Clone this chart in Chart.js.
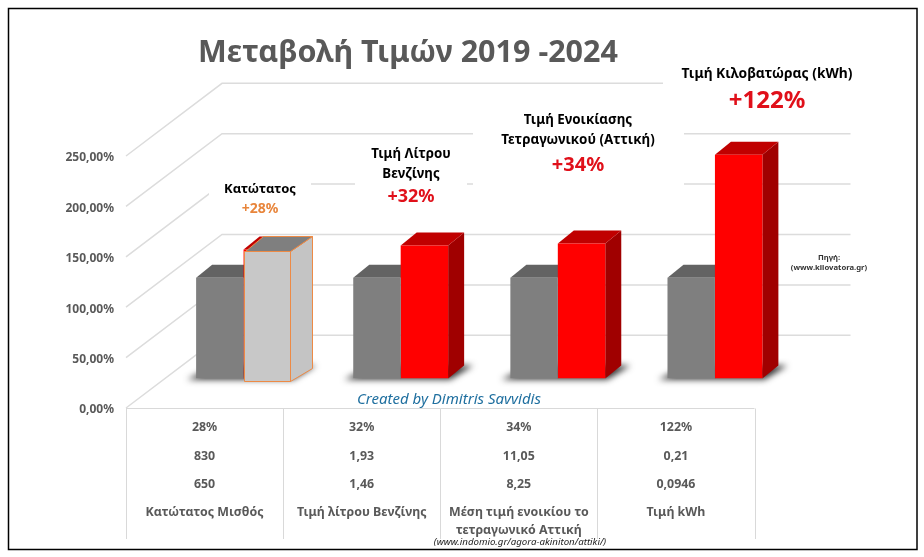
<!DOCTYPE html>
<html>
<head>
<meta charset="utf-8">
<style>
  html, body { margin: 0; padding: 0; background: #fff; }
  #wrap { position: relative; width: 924px; height: 557px; }
</style>
<script src="https://cdn.jsdelivr.net/npm/chart.js@4"></script>
</head>
<body>
<div id="wrap"><canvas id="chart" width="924" height="557"></canvas></div>
<script>
const categories = ['Κατώτατος Μισθός', 'Τιμή λίτρου Βενζίνης', 'Μέση τιμή ενοικίου το|τετραγωνικό Αττική', 'Τιμή kWh'];
const baseValues = [100, 100, 100, 100];
const currentValues = [128, 132, 134, 222];
const yTicks = ['0,00%', '50,00%', '100,00%', '150,00%', '200,00%', '250,00%'];
const changeRow = ['28%', '32%', '34%', '122%'];
const newRow = ['830', '1,93', '11,05', '0,21'];
const oldRow = ['650', '1,46', '8,25', '0,0946'];

const FONT = '"Noto Sans", sans-serif';
const GREY_TXT = '#595959';
// oblique projection: front edge, back wall, bar plane, bar extrusion
// (the plot sits 2px low so the tick labels line up, FRONT_DY takes it back)
const FRONT_DY = -2;
const WALL = { dx: 96, dy: -72.7 };
const PLANE = { dx: 39, dy: -31.5 };
const BAR = { dx: 16, dy: -13 };

function poly(ctx, pts, fill, stroke) {
  ctx.beginPath();
  pts.forEach((p, i) => i ? ctx.lineTo(p[0], p[1]) : ctx.moveTo(p[0], p[1]));
  ctx.closePath();
  if (fill) { ctx.fillStyle = fill; ctx.fill(); }
  if (stroke) { ctx.strokeStyle = stroke; ctx.stroke(); }
}

function label(ctx, text, x, y, font, color) {
  ctx.font = font;
  ctx.fillStyle = color;
  ctx.textAlign = 'center';
  ctx.textBaseline = 'middle';
  ctx.fillText(text, x, y + 1);
}

// walls and gridlines, then white boxes behind the callouts
function drawWalls(chart) {
  const { ctx, chartArea: a, scales: { y } } = chart;
  ctx.save();
  ctx.strokeStyle = '#dcdcdc';
  ctx.lineWidth = 1.5;
  y.ticks.forEach(t => {
    const py = y.getPixelForValue(t.value) + FRONT_DY;
    ctx.beginPath();
    ctx.moveTo(a.left, py);
    ctx.lineTo(a.left + WALL.dx, py + WALL.dy);
    ctx.lineTo(a.right + WALL.dx, py + WALL.dy);
    ctx.stroke();
  });
  ctx.fillStyle = '#fff';
  ctx.fillRect(209, 176, 102, 47);
  ctx.fillRect(355, 140, 112, 70);
  ctx.fillRect(473, 100, 211, 90);
  ctx.fillRect(663, 60, 195, 50);
  ctx.restore();
}

function drawExtrusions(chart) {
  const { ctx } = chart;
  const greys = chart.getDatasetMeta(0).data;
  const reds = chart.getDatasetMeta(1).data;
  ctx.save();
  // floor shadow, shape parked off canvas so only the blur lands here
  const off = 2000;
  reds.forEach((r, i) => {
    const g = greys[i];
    const l = g.x - g.width / 2 + PLANE.dx, rt = r.x + r.width / 2 + PLANE.dx, b = r.base + PLANE.dy;
    ctx.save();
    ctx.shadowColor = 'rgba(0,0,0,0.8)';
    ctx.shadowBlur = 6;
    ctx.shadowOffsetX = off;
    poly(ctx, [[l - 9 - off, b + 1], [rt + 2 - off, b + 1], [rt + BAR.dx + 9 - off, b + BAR.dy], [l + 20 - off, b + BAR.dy]], '#000');
    ctx.restore();
  });
  [[greys, '#636363', '#5a5a5a'], [reds, '#c00000', '#a00000']].forEach(([els, top, side]) => {
    els.forEach(e => {
      const l = e.x - e.width / 2 + PLANE.dx, r = e.x + e.width / 2 + PLANE.dx;
      const t = e.y + PLANE.dy, b = e.base + PLANE.dy;
      poly(ctx, [[r, t], [r + BAR.dx, t + BAR.dy], [r + BAR.dx, b + BAR.dy], [r, b]], side);
      poly(ctx, [[l, t], [r, t], [r + BAR.dx, t + BAR.dy], [l + BAR.dx, t + BAR.dy]], top);
    });
  });
  ctx.restore();
}

// the pale box pasted over the first red bar in the original
function drawHighlight(chart) {
  const { ctx } = chart;
  const e = chart.getDatasetMeta(1).data[0];
  const l = Math.round(e.x - e.width / 2 + PLANE.dx) + 0.5, r = Math.round(e.x + e.width / 2 + PLANE.dx) - 0.5;
  const t = Math.round(e.y + PLANE.dy) + 2.5, b = Math.round(e.base + PLANE.dy) + 2.5;
  const d = { dx: 22, dy: -15 };
  ctx.save();
  ctx.lineWidth = 1;
  poly(ctx, [[r, t], [r + d.dx, t + d.dy], [r + d.dx, b + d.dy + 2], [r, b]], '#c4c4c4', '#ed8a45');
  poly(ctx, [[l + 1, t], [r, t], [r + d.dx, t + d.dy], [l + d.dx - 3, t + d.dy]], '#7f7f7f', '#ed8a45');
  poly(ctx, [[l, t], [r, t], [r, b], [l, b]], '#c8c8c8', '#ed8a45');
  ctx.restore();
}

function drawTexts(chart) {
  const { ctx, chartArea: a, scales: { x } } = chart;
  ctx.save();
  label(ctx, 'Μεταβολή Τιμών 2019 -2024', 408, 52, 'bold 30.5px ' + FONT, GREY_TXT);

  label(ctx, 'Κατώτατος', 260, 188, 'bold 13px ' + FONT, '#000');
  label(ctx, '+28%', 260, 208, 'bold 14px ' + FONT, '#e8853b');
  label(ctx, 'Τιμή Λίτρου', 411, 153, 'bold 13.3px ' + FONT, '#000');
  label(ctx, 'Βενζίνης', 411, 173, 'bold 13.3px ' + FONT, '#000');
  label(ctx, '+32%', 411, 196, 'bold 18px ' + FONT, '#e0101a');
  label(ctx, 'Τιμή Ενοικίασης', 578, 119, 'bold 13.4px ' + FONT, '#000');
  label(ctx, 'Τετραγωνικού (Αττική)', 578, 139, 'bold 13.4px ' + FONT, '#000');
  label(ctx, '+34%', 578, 164, 'bold 20px ' + FONT, '#e0101a');
  label(ctx, 'Τιμή Κιλοβατώρας (kWh)', 767, 73, 'bold 13.8px ' + FONT, '#000');
  label(ctx, '+122%', 767, 100, 'bold 24px ' + FONT, '#e0101a');
  label(ctx, 'Πηγή:', 829, 257, 'bold 7.7px ' + FONT, '#333');
  label(ctx, '(www.kilovatora.gr)', 829, 267, 'bold 7.7px ' + FONT, '#333');
  label(ctx, 'Created by Dimitris Savvidis', 449, 399, 'italic 15px ' + FONT, '#1f6f9f');

  // data table under the plot
  const tableTop = a.bottom + FRONT_DY + 0.5;
  ctx.strokeStyle = '#d9d9d9';
  ctx.lineWidth = 1;
  ctx.beginPath();
  ctx.moveTo(a.left, tableTop);
  ctx.lineTo(a.right, tableTop);
  const colW = (a.right - a.left) / categories.length;
  for (let i = 0; i <= categories.length; i++) {
    const cx = Math.round(a.left + i * colW) + 0.5;
    ctx.moveTo(cx, tableTop);
    ctx.lineTo(cx, 539);
  }
  ctx.stroke();
  const cell = 'bold 12.4px ' + FONT;
  categories.forEach((c, i) => {
    const cx = x.getPixelForValue(i);
    label(ctx, changeRow[i], cx, 426, cell, GREY_TXT);
    label(ctx, newRow[i], cx, 455, cell, GREY_TXT);
    label(ctx, oldRow[i], cx, 483, cell, GREY_TXT);
    c.split('|').forEach((line, j) => label(ctx, line, cx, 511 + j * 18, cell, GREY_TXT));
  });
  label(ctx, '(www.indomio.gr/agora-akiniton/attiki/)', 520, 541, 'italic 9.7px ' + FONT, '#222');

  // picture frame
  ctx.strokeStyle = '#000';
  ctx.lineWidth = 1.5;
  ctx.strokeRect(8.5, 8.5, 908.5, 541);
  ctx.restore();
}

const chart3d = {
  id: 'chart3d',
  beforeDatasetsDraw(chart) {
    drawWalls(chart);
    drawExtrusions(chart);
    chart.ctx.save();
    chart.ctx.translate(PLANE.dx, PLANE.dy);
  },
  afterDatasetsDraw(chart) {
    chart.ctx.restore();
    drawHighlight(chart);
    drawTexts(chart);
  }
};

new Chart(document.getElementById('chart'), {
  type: 'bar',
  data: {
    labels: categories,
    datasets: [
      { data: baseValues, backgroundColor: '#7f7f7f' },
      { data: currentValues, backgroundColor: '#ff0000' }
    ]
  },
  options: {
    responsive: false,
    animation: false,
    layout: { padding: { top: 158, bottom: 147, left: 0, right: 169.5 } },
    datasets: { bar: { categoryPercentage: 0.604, barPercentage: 1 } },
    plugins: { legend: { display: false }, tooltip: { enabled: false } },
    scales: {
      x: { display: false },
      y: {
        min: 0,
        max: 250,
        afterFit: s => { s.width = 126; },
        border: { display: false },
        grid: { display: false },
        ticks: {
          stepSize: 50,
          padding: 4,
          color: GREY_TXT,
          font: { family: FONT, size: 12, weight: 'bold' },
          callback: (v, i) => yTicks[i]
        }
      }
    }
  },
  plugins: [chart3d]
});
</script>
</body>
</html>
